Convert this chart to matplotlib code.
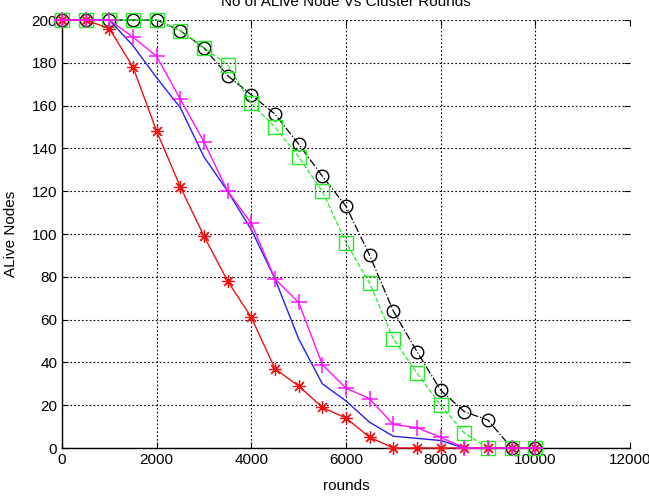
import numpy as np
import matplotlib
matplotlib.use("Agg")
import matplotlib.pyplot as plt

plt.rcParams['font.family'] = ['Liberation Sans', 'DejaVu Sans']

rounds = [0, 500, 1000, 1500, 2000, 2500, 3000, 3500, 4000, 4500, 5000,
          5500, 6000, 6500, 7000, 7500, 8000, 8500, 9000, 9500, 10000]

red_star = [200, 200, 196, 178, 148, 122, 99, 78, 61, 37, 29,
            19, 14, 5, 0, 0, 0, 0, 0, 0, 0]
magenta_plus = [200, 200, 200, 192, 183, 163, 143, 120, 105, 79, 68,
                39, 28, 23, 11, 9.5, 5, 0, 0, 0, 0]
blue_line = [200, 200, 200, 188, 173, 159, 136, 120, 102, 79, 51,
             30, 22, 12, 5.5, 4.5, 3.5, 0, 0, 0, 0]
black_circle = [200, 200, 200, 200, 200, 195, 187, 174, 165, 156, 142,
                127, 113, 90, 64, 45, 27, 17, 13, 0, 0]
green_square = [200, 200, 200, 200, 200, 195, 187, 179, 161, 150, 136,
                120, 96, 77, 51, 35, 20, 7, 0, 0, 0]

xticks = [0, 2000, 4000, 6000, 8000, 10000, 12000]
yticks = list(range(0, 201, 20))


def main():
    fig = plt.figure(figsize=(6.49, 4.96), dpi=100)
    ax = fig.add_axes([62 / 649, 48 / 496, 568 / 649, 428 / 496])

    ax.plot(rounds, black_circle, color='black', linestyle='-.', linewidth=0.9,
            marker='o', markersize=9, markerfacecolor='none', markeredgewidth=1.0,
            clip_on=False, zorder=3)
    ax.plot(rounds, green_square, color='#22ee22', linestyle='--', linewidth=0.9,
            marker='s', markersize=10, markerfacecolor='none', markeredgewidth=1.0,
            clip_on=False, zorder=3)
    ax.plot(rounds, blue_line, color='#2222ee', linestyle='-', linewidth=1.0,
            clip_on=False, zorder=3)
    # asterisk marker (8 spokes)
    ax.plot(rounds, red_star, color='#ee1111', linestyle='-', linewidth=1.0,
            marker=(8, 2, 0), markersize=9, markeredgewidth=0.9,
            clip_on=False, zorder=4)
    ax.plot(rounds, magenta_plus, color='#ff11ff', linestyle='-', linewidth=1.0,
            marker='+', markersize=12, markeredgewidth=1.1,
            clip_on=False, zorder=5)

    ax.set_xlim(0, 12000)
    ax.set_ylim(0, 200)
    ax.set_xticks(xticks)
    ax.set_yticks(yticks)
    ax.grid(True, color='black', linestyle=(0, (1.5, 2)), linewidth=0.8)
    ax.set_axisbelow(True)

    for side in ['top', 'right']:
        ax.spines[side].set_visible(False)
    ax.spines['left'].set_linewidth(1.0)
    ax.spines['bottom'].set_linewidth(1.0)
    ax.tick_params(direction='in', length=4, labelsize=11, top=True, right=True)

    ax.set_xlabel('rounds', fontsize=11, labelpad=9)
    ax.set_ylabel('ALive Nodes', fontsize=11, labelpad=10)
    fig.text(346 / 649, 1 - 2 / 496, 'No of ALive Node Vs Cluster Rounds',
             ha='center', va='center', fontsize=11)

    fig.savefig('out.png', dpi=100)


if __name__ == '__main__':
    main()
